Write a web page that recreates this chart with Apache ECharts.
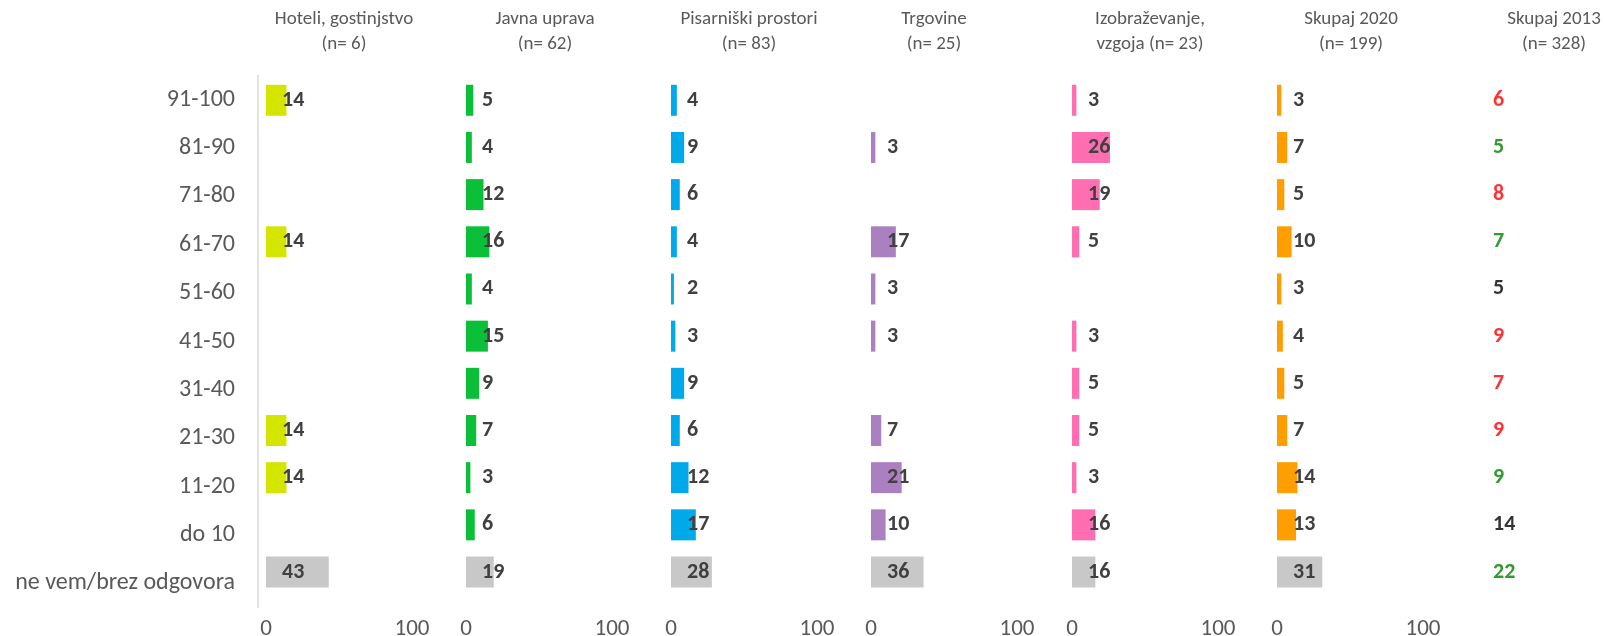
<!DOCTYPE html>
<html>
<head>
<meta charset="utf-8">
<script src="https://cdn.jsdelivr.net/npm/echarts@6/dist/echarts.min.js"></script>
<style>
html,body{margin:0;padding:0;background:#fff;}
#chart{width:1604px;height:636px;}
</style>
</head>
<body>
<div id="chart"></div>
<script>
// ---- data ----
const categories = ['91-100','81-90','71-80','61-70','51-60','41-50','31-40','21-30','11-20','do 10','ne vem/brez odgovora'];
const panelTitles = ['Hoteli, gostinjstvo\n(n= 6)','Javna uprava\n(n= 62)','Pisarniški prostori\n(n= 83)','Trgovine\n(n= 25)','Izobraževanje,\nvzgoja (n= 23)','Skupaj 2020\n(n= 199)'];
const title2013 = 'Skupaj 2013\n(n= 328)';
const hoteli       = [14, null, null, 14, null, null, null, 14, 14, null, 43];
const javnaUprava  = [5, 4, 12, 16, 4, 15, 9, 7, 3, 6, 19];
const pisarniski   = [4, 9, 6, 4, 2, 3, 9, 6, 12, 17, 28];
const trgovine     = [null, 3, null, 17, 3, 3, null, 7, 21, 10, 36];
const izobrazevanje= [3, 26, 19, 5, null, 3, 5, 5, 3, 16, 16];
const skupaj2020   = [3, 7, 5, 10, 3, 4, 5, 7, 14, 13, 31];
const skupaj2013   = [6, 5, 8, 7, 5, 9, 7, 9, 9, 14, 22];
const xTicks = [0, 100];

// ---- styles ----
const panelColors = ['#D4E500', '#0BBF38', '#00A9EA', '#AA80C0', '#FF6EB0', '#FF9E00'];
const grayColor = '#C8C8C8';
const colors2013 = ['#FF0000','#008000','#FF0000','#008000','#000000','#FF0000','#FF0000','#FF0000','#008000','#000000','#008000'];
const FONT = 'Carlito, Lato, "Open Sans", sans-serif';
const panelSeries = [hoteli, javnaUprava, pisarniski, trgovine, izobrazevanje, skupaj2020];
const panelLeft = [266, 466, 671, 871, 1072, 1277];
const titleX = [344, 545, 749, 934, 1150, 1351];
const barTop = 76.7, barHeight = 518.9, unit100 = 146;

const grids = [], xAxes = [], yAxes = [], series = [], titles = [];

// grid 0: category labels with left axis line
grids.push({left: 258, top: 75.5, width: 1, height: 532, outerBoundsMode: 'none', containLabel: false});
xAxes.push({gridIndex: 0, type: 'value', show: false, min: 0, max: 1});
yAxes.push({
  gridIndex: 0, type: 'category', data: categories, inverse: true,
  axisLine: {show: true, lineStyle: {color: '#D9D9D9', width: 1.5}},
  axisTick: {show: false},
  axisLabel: {fontFamily: FONT, fontSize: 24, color: '#595959', margin: 23}
});

panelSeries.forEach((vals, i) => {
  const gi = i + 1;
  grids.push({left: panelLeft[i], top: barTop, width: unit100, height: barHeight, outerBoundsMode: 'none', containLabel: false});
  xAxes.push({
    gridIndex: gi, type: 'value', min: xTicks[0], max: xTicks[1], interval: 100,
    axisLine: {show: false}, axisTick: {show: false}, splitLine: {show: false},
    axisLabel: {fontFamily: FONT, fontSize: 23, color: '#595959', margin: 22,
      customValues: xTicks}
  });
  yAxes.push({gridIndex: gi, type: 'category', data: categories, inverse: true, show: false});
  series.push({
    type: 'bar', xAxisIndex: gi, yAxisIndex: gi,
    barWidth: 31,
    data: vals.map((v, k) => ({
      value: v,
      itemStyle: {color: k === vals.length - 1 ? grayColor : panelColors[i]}
    })),
    label: {
      show: true, position: [16, '50%'], align: 'left', verticalAlign: 'middle',
      fontFamily: FONT, fontSize: 22, fontWeight: 'bold', color: '#404040',
      formatter: p => (p.value == null ? '' : p.value)
    },
    silent: true, animation: false
  });
  titles.push({
    text: panelTitles[i], left: titleX[i], top: 7, textAlign: 'center', padding: 0,
    textStyle: {fontFamily: FONT, fontSize: 19, fontWeight: 'normal', color: '#595959', lineHeight: 24.6}
  });
});

// Skupaj 2013 text column
const gi2013 = panelSeries.length + 1;
grids.push({left: 1493, top: barTop, width: 60, height: barHeight, outerBoundsMode: 'none', containLabel: false});
xAxes.push({gridIndex: gi2013, type: 'value', show: false, min: 0, max: 1});
yAxes.push({gridIndex: gi2013, type: 'category', data: categories, inverse: true, show: false});
series.push({
  type: 'scatter', xAxisIndex: gi2013, yAxisIndex: gi2013, symbolSize: 0,
  data: skupaj2013.map((v, k) => ({
    value: [0, k, v],
    label: {color: colors2013[k]}
  })),
  label: {
    show: true, position: 'right', distance: 0, align: 'left', verticalAlign: 'middle',
    fontFamily: FONT, fontSize: 22, fontWeight: 'bold',
    formatter: p => p.value[2]
  },
  silent: true, animation: false
});
titles.push({
  text: title2013, left: 1554, top: 7, textAlign: 'center', padding: 0,
  textStyle: {fontFamily: FONT, fontSize: 19, fontWeight: 'normal', color: '#595959', lineHeight: 24.6}
});

const chart = echarts.init(document.getElementById('chart'), null, {renderer: 'canvas'});
chart.setOption({
  animation: false,
  backgroundColor: '#fff',
  title: titles,
  grid: grids,
  xAxis: xAxes,
  yAxis: yAxes,
  series: series
});
</script>
</body>
</html>
